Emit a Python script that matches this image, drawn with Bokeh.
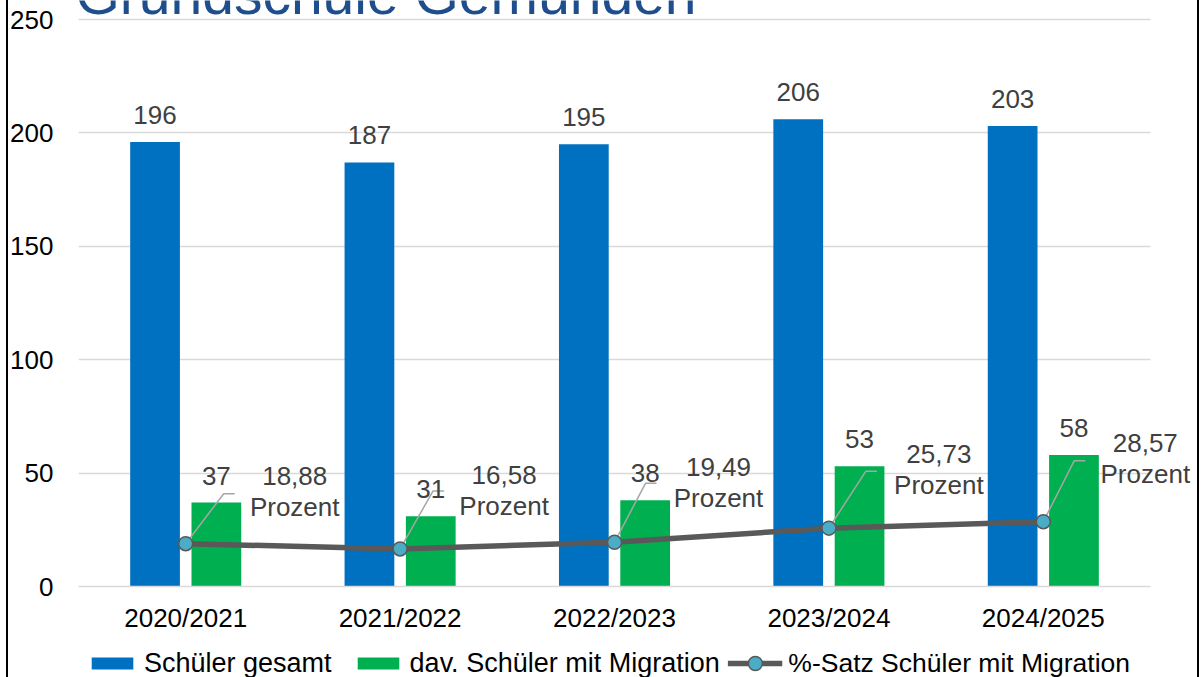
from bokeh.plotting import figure
from bokeh.layouts import column
from bokeh.models import (ColumnDataSource, Range1d, Label, LabelSet, FixedTicker,
                          Legend, LegendItem)
from bokeh.core.properties import value
from bokeh.embed import file_html
from bokeh.resources import INLINE

# ---- data ----
years = ["2020/2021", "2021/2022", "2022/2023", "2023/2024", "2024/2025"]
total = [196, 187, 195, 206, 203]
migration = [37, 31, 38, 53, 58]
pct = [18.88, 16.58, 19.49, 25.73, 28.57]
y_ticks = [0, 50, 100, 150, 200, 250]
title_text = "Grundschule Gemünden"
legend_labels = ["Schüler gesamt", "dav. Schüler mit Migration",
                 "%-Satz Schüler mit Migration"]

# ---- styles / positions ----
FONT = "Liberation Sans"
BLUE = "#0070c0"
GREEN = "#00b050"
LINE = "#595959"
MARK = "#4bacc6"
LBL = "#404040"
TITLE_COLOR = "#1f4e8c"
W, H, H2 = 1202, 640, 37
MB_L, MB_R, MB_T, MB_B = 78, 0, 0, 54
PLOT_RIGHT = 1150              # right end of the category area (px)
PLOT_TOP = 19                  # pixel row of the 250 gridline
BAR_W = 0.232
OFF = 0.143
# pct-label offsets (px) relative to the line point
pct_dx = [109, 104, 104, 110, 102]
pct_dy = [26, 32, 33, 32, 37]
LABEL_SHIFT = 11               # compensation for Label baseline handling
# leader line bend offsets (px)
lead_dx = [38, 33, 31, 37, 31]
lead_dy = [50, 58, 59, 57, 61]
lead_h = 11
# legend placement (px)
LEG_A_MARGIN = 8               # from frame left
LEG_B_MARGIN = 72              # from frame right

n = len(years)
centers = [i + 0.5 for i in range(n)]
X_END = n * (W - MB_R - MB_L) / (PLOT_RIGHT - MB_L)
Y_TOP = 250 * (H - MB_B - MB_T) / (H - MB_B - PLOT_TOP)

p = figure(x_range=Range1d(0, X_END), y_range=Range1d(0, Y_TOP),
           width=W, height=H, output_backend="svg", toolbar_location=None,
           min_border_left=MB_L, min_border_right=MB_R, min_border_top=MB_T,
           min_border_bottom=MB_B)
p.outline_line_color = None
p.background_fill_alpha = 0
p.border_fill_alpha = 0

frame_w = W - MB_L - MB_R
frame_h = H - MB_T - MB_B
px_x = X_END / frame_w
px_y = Y_TOP / frame_h

src = ColumnDataSource(dict(
    xc=centers, xb=[c - OFF for c in centers], xg=[c + OFF for c in centers],
    total=total, migration=migration, pct=pct,
    total_txt=[str(v) for v in total],
    mig_txt=[str(v) for v in migration],
))

r_total = p.vbar(x="xb", top="total", width=BAR_W, source=src,
                 fill_color=BLUE, line_color=None)
r_mig = p.vbar(x="xg", top="migration", width=BAR_W, source=src,
               fill_color=GREEN, line_color=None)

# leader lines (computed from the data points)
lxs, lys = [], []
for i, v in enumerate(pct):
    cx = centers[i]
    bx = cx + lead_dx[i] * px_x
    by = v + lead_dy[i] * px_y
    lxs.append([cx, bx, bx + lead_h * px_x])
    lys.append([v, by, by])
p.multi_line(xs=lxs, ys=lys, line_color="#a6a6a6", line_width=1.5)

r_line = p.line(x="xc", y="pct", source=src, line_color=LINE, line_width=5.5)
r_pts = p.scatter(x="xc", y="pct", source=src, size=14, fill_color=MARK,
                  line_color=LINE, line_width=1.5)

# bar value labels
ls_common = dict(text_font=value(FONT), text_font_size="26px", text_color=LBL,
                 text_align="center", text_baseline="alphabetic", source=src)
p.add_layout(LabelSet(x="xb", y="total", text="total_txt", y_offset=18, **ls_common))
p.add_layout(LabelSet(x="xg", y="migration", text="mig_txt", y_offset=18, **ls_common))

# percentage labels
lb_common = dict(text_font=FONT, text_font_size="26px", text_color=LBL,
                 text_align="center", text_baseline="alphabetic")
for i in range(n):
    ptxt = f"{pct[i]:.2f}".replace(".", ",")
    p.add_layout(Label(x=centers[i], y=pct[i], text=ptxt, x_offset=pct_dx[i],
                       y_offset=pct_dy[i] + 31 + LABEL_SHIFT, **lb_common))
    p.add_layout(Label(x=centers[i], y=pct[i], text="Prozent", x_offset=pct_dx[i],
                       y_offset=pct_dy[i] + LABEL_SHIFT, **lb_common))

# title (partly cut off at the top, as in the reference)
p.add_layout(Label(x=-3 * px_x, y=Y_TOP + 7 * px_y, text=title_text,
                   text_font=FONT, text_font_size="57px", text_color=TITLE_COLOR,
                   text_baseline="alphabetic", text_align="left"))

# axes & grid
p.xgrid.grid_line_color = None
p.ygrid.grid_line_color = "#d9d9d9"
p.ygrid.grid_line_width = 1.5
if "cross_bounds" in p.ygrid[0].properties():
    p.ygrid.cross_bounds = (0, n)
p.yaxis.ticker = y_ticks
p.yaxis.axis_line_color = None
p.yaxis.major_tick_line_color = None
p.yaxis.minor_tick_line_color = None
p.yaxis.major_label_standoff = 19
p.yaxis.major_label_text_font = FONT
p.yaxis.major_label_text_font_size = "26px"
p.yaxis.major_label_text_color = "black"
p.xaxis.ticker = FixedTicker(ticks=centers)
p.xaxis.major_label_overrides = {c: y for c, y in zip(centers, years)}
p.xaxis.bounds = (0, n)
p.xaxis.axis_line_color = "#d9d9d9"
p.xaxis.axis_line_width = 1.5
p.xaxis.major_tick_line_color = None
p.xaxis.minor_tick_line_color = None
p.xaxis.major_label_standoff = 10
p.xaxis.major_label_text_font = FONT
p.xaxis.major_label_text_font_size = "26px"
p.xaxis.major_label_text_color = "black"

# legend strip (separate small figure below the chart; frame aligned with p)
p2 = figure(width=W, height=H2, x_range=Range1d(0, 1), y_range=Range1d(0, 1),
            x_axis_type=None, y_axis_type=None,
            output_backend="svg", toolbar_location=None,
            min_border_left=MB_L, min_border_right=MB_R, min_border_top=9,
            min_border_bottom=0)
p2.grid.visible = False
p2.outline_line_color = None
p2.background_fill_alpha = 0
p2.border_fill_alpha = 0
e = ColumnDataSource(dict(x=[-1], y=[-1]))   # off-screen: legend swatches only
g1 = p2.vbar(x="x", top="y", width=0.1, source=e, fill_color=BLUE, line_color=None)
g2 = p2.vbar(x="x", top="y", width=0.1, source=e, fill_color=GREEN, line_color=None)
g3 = p2.line(x="x", y="y", source=e, line_color=LINE, line_width=5.5)
g4 = p2.scatter(x="x", y="y", source=e, size=14, fill_color=MARK,
                line_color=LINE, line_width=1.5)
leg_common = dict(orientation="horizontal", label_standoff=6, padding=0,
                  label_text_font=FONT, label_text_color="black",
                  border_line_color=None, background_fill_alpha=0)
legend_a = Legend(items=[
    LegendItem(label=legend_labels[0], renderers=[g1]),
    LegendItem(label=legend_labels[1], renderers=[g2]),
], location="left", margin=LEG_A_MARGIN, glyph_width=52, glyph_height=15,
    spacing=20, label_text_font_size="27px", **leg_common)
legend_b = Legend(items=[
    LegendItem(label=legend_labels[2], renderers=[g3, g4]),
], location="right", margin=LEG_B_MARGIN, glyph_width=55, glyph_height=35,
    spacing=0, label_text_font_size="26.5px", **leg_common)
p2.add_layout(legend_a, "center")
p2.add_layout(legend_b, "center")

layout = column(p, p2, spacing=0)
layout.styles = {
    "background-color": "white",
    "box-shadow": ("inset 6px 0 0 0 white, inset 8px 0 0 0 black, "
                   "inset -3px 0 0 0 white, inset -5px 0 0 0 black"),
}

open("out.html", "w").write(file_html(layout, INLINE))
